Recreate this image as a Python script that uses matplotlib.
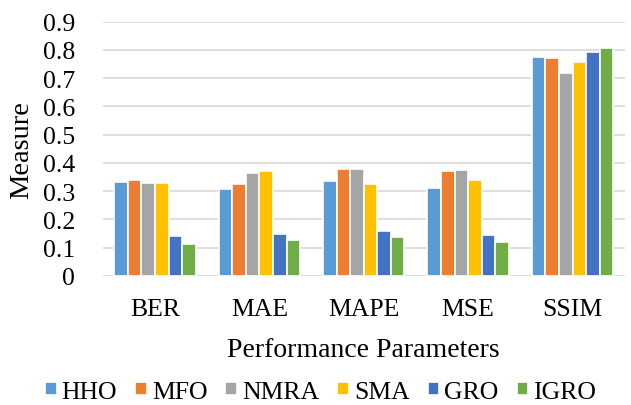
import numpy as np
import matplotlib.pyplot as plt

plt.rcParams['font.family'] = ['Liberation Serif', 'DejaVu Serif']

categories = ["BER", "MAE", "MAPE", "MSE", "SSIM"]
algorithms = ["HHO", "MFO", "NMRA", "SMA", "GRO", "IGRO"]
colors = ["#5B9BD5", "#ED7D31", "#A5A5A5", "#FFC000", "#4472C4", "#70AD47"]

hho = [0.333, 0.307, 0.335, 0.310, 0.774]
mfo = [0.340, 0.325, 0.380, 0.373, 0.770]
nmra = [0.329, 0.366, 0.380, 0.376, 0.718]
sma = [0.329, 0.373, 0.324, 0.340, 0.756]
gro = [0.140, 0.147, 0.159, 0.144, 0.792]
igro = [0.112, 0.126, 0.137, 0.119, 0.807]
series = [hho, mfo, nmra, sma, gro, igro]

fig = plt.figure(figsize=(6.31, 4.06), dpi=100)
ax = fig.add_axes([0.163, 0.318, 0.827, 0.626])

x = np.arange(len(categories))
w = 0.13
for i, (vals, name, col) in enumerate(zip(series, algorithms, colors)):
    ax.bar(x + (i - 2.5) * w, vals, w, color=col, edgecolor="white",
           linewidth=1.2, label=name, zorder=3)

ax.set_xlim(-0.5, len(categories) - 0.5)
ax.set_ylim(0, 0.9)
ax.set_yticks(np.arange(0, 0.91, 0.1))
ax.set_yticklabels(["0"] + [f"{v:.1f}" for v in np.arange(0.1, 0.91, 0.1)])
ax.set_xticks(x)
ax.set_xticklabels(categories)
ax.grid(axis="y", color="#D9D9D9", linewidth=1.2, zorder=0)
for s in ax.spines.values():
    s.set_visible(False)
ax.tick_params(axis="both", length=0, labelsize=18.5)
ax.tick_params(axis="x", pad=16)
ax.tick_params(axis="y", pad=20)

ax.set_ylabel("Measure", fontsize=20.5, labelpad=6)
ax.set_xlabel("Performance Parameters", fontsize=20, labelpad=12)

fig.legend(loc="center", bbox_to_anchor=(0.508, 0.033),
           ncol=6, frameon=False, fontsize=18.5, handlelength=0.45,
           handleheight=0.45, handletextpad=0.2, columnspacing=0.7)

fig.savefig("out.png", dpi=100)
